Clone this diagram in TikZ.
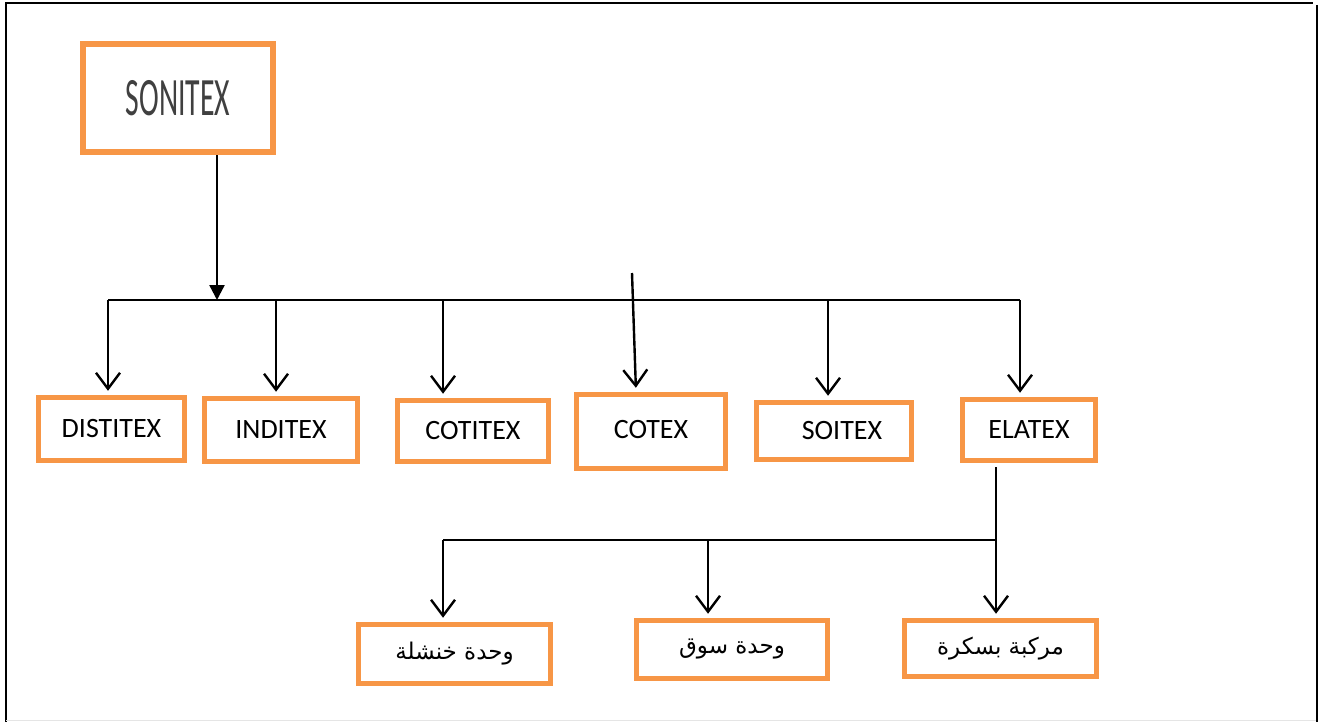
\documentclass[tikz,border=0pt]{standalone}
\usepackage{fontspec}
\setmainfont{Carlito}
\newfontfamily\arabicfont[Script=Arabic]{DejaVu Sans}
\newfontfamily\narrowfont[FakeStretch=0.55]{Carlito}
\TeXXeTstate=1
\usetikzlibrary{arrows.meta}
\definecolor{boxorange}{HTML}{F79646}

\begin{document}
\begin{tikzpicture}[x=1pt,y=-1pt,
  unitbox/.style={draw=boxorange,line width=5.5pt,fill=white,inner sep=0pt,font=\fontsize{28}{32}\selectfont},
  arabbox/.style={unitbox,font=\arabicfont\fontsize{23}{27}\selectfont},
  arr/.style={line width=2.4pt,-{Straight Barb[length=16pt,width=24pt]},shorten >=4pt},
  bus/.style={line width=1.8pt}]
\useasboundingbox (0,0) rectangle (1322,722);
% page frame
\draw[line width=2.5pt] (5,3) -- (1313,3);
\draw[line width=2.5pt] (6,3) -- (6,722);
\draw[line width=2.5pt] (1317,5) -- (1317,722);
\draw[line width=1pt,black!10] (6,720) -- (1316,720);
% head unit
\node[unitbox,line width=6.5pt,minimum width=190pt,minimum height=108pt,font=\narrowfont\fontsize{54}{58}\selectfont,text=black!75] (sonitex) at (178,98) {SONITEX};
% first row
\node[unitbox,minimum width=146pt,minimum height=63pt] (distitex) at (111.5,429) {DISTITEX};
\node[unitbox,minimum width=153pt,minimum height=63pt] (inditex) at (281,430) {INDITEX};
\node[unitbox,minimum width=151pt,minimum height=61pt] (cotitex) at (473,431) {COTITEX};
\node[unitbox,minimum width=149pt,minimum height=74pt] (cotex) at (651,431.5) {\raisebox{5pt}{COTEX}};
\node[unitbox,minimum width=155pt,minimum height=57pt] (soitex) at (834,431) {\hspace{16pt}\raisebox{-3pt}{SOITEX}};
\node[unitbox,minimum width=133pt,minimum height=61pt] (elatex) at (1029,430) {ELATEX};
% second row
\node[arabbox,minimum width=192pt,minimum height=59pt] (khenchela) at (454.5,654) {\beginR وحدة خنشلة\endR};
\node[arabbox,minimum width=191pt,minimum height=58pt] (souk) at (732,649.5) {\beginR وحدة سوق\endR};
\node[arabbox,minimum width=192pt,minimum height=56pt] (biskra) at (1000.5,648.5) {\beginR مركبة بسكرة\endR\hspace{16pt}};
% bus of the first row
\coordinate (top) at (217,300);
\coordinate (b1) at (108,300);
\coordinate (b2) at (276,300);
\coordinate (b3) at (443,300);
\coordinate (b4) at (632,273);
\coordinate (b5) at (828,300);
\coordinate (b6) at (1020,300);
\draw[line width=2.4pt,-{Triangle[length=15pt,width=15pt]}] (sonitex.south -| top) -- (top);
\draw[bus] (b1) -- (b6);
\draw[arr] (b1) -- (b1 |- distitex.north);
\draw[arr] (b2) -- (b2 |- inditex.north);
\draw[arr] (b3) -- (b3 |- cotitex.north);
\draw[arr] (b4) -- ([xshift=-15pt]cotex.north);
\draw[arr] (b5) -- (b5 |- soitex.north);
\draw[arr] (b6) -- (b6 |- elatex.north);
% bus under ELATEX
\coordinate (e1) at (443,540);
\coordinate (e2) at (708,540);
\coordinate (e3) at (996,540);
\draw[bus] (e1) -- (e3);
\draw[arr,shorten <=4pt] (elatex.south -| e3) -- (e3 |- biskra.north);
\draw[arr] (e1) -- (e1 |- khenchela.north);
\draw[arr] (e2) -- (e2 |- souk.north);
\end{tikzpicture}
\end{document}
